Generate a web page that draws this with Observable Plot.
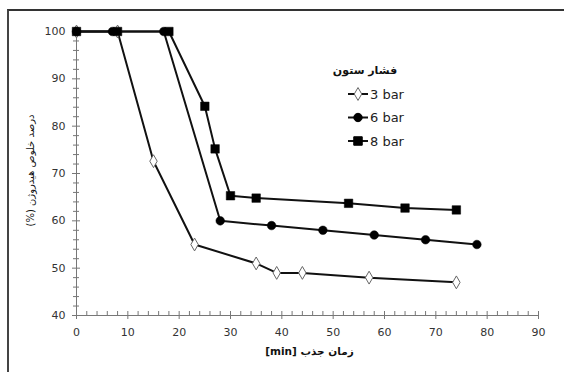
<!DOCTYPE html>
<html>
<head>
<meta charset="utf-8">
<script src="https://cdn.jsdelivr.net/npm/d3@7"></script>
<script src="https://cdn.jsdelivr.net/npm/@observablehq/plot@0.6"></script>
<style>
  html, body { margin: 0; padding: 0; background: #fff; }
  #wrap { position: relative; width: 564px; height: 372px; overflow: hidden; }
  #frame { position: absolute; left: 7px; top: 9px; width: 560px; height: 370px;
           border-top: 2px solid #333; border-left: 2px solid #444; pointer-events: none; }
  #legend { position: absolute; left: 330px; top: 58px; }
</style>
</head>
<body>
<div id="wrap"><div id="frame"></div></div>
<script>
// Data
const seriesNames = ["3 bar", "6 bar", "8 bar"];
const minutes3 = [0, 8, 15, 23, 35, 39, 44, 57, 74];
const purity3  = [100, 100, 72.6, 55, 51, 49, 49, 48, 47];
const minutes6 = [0, 7, 17, 28, 38, 48, 58, 68, 78];
const purity6  = [100, 100, 100, 60, 59, 58, 57, 56, 55];
const minutes8 = [0, 8, 18, 25, 27, 30, 35, 53, 64, 74];
const purity8  = [100, 100, 100, 84.2, 75.2, 65.3, 64.8, 63.7, 62.7, 62.3];

const xTicks = [0, 10, 20, 30, 40, 50, 60, 70, 80, 90];
const yTicks = [40, 50, 60, 70, 80, 90, 100];
const xMinor = d3.range(0, 91, 2).filter(v => v % 10 !== 0);
const yMinor = d3.range(40, 101, 2).filter(v => v % 10 !== 0);

const xLabel = "[min] زمان جذب";
const yLabel = "(%) درصد خلوص هیدروژن";
const legendTitle = "فشار ستون";

const mk = (xs, ys, s) => xs.map((x, i) => ({minute: x, purity: ys[i], series: s}));
const d3bar = mk(minutes3, purity3, seriesNames[0]);
const d6bar = mk(minutes6, purity6, seriesNames[1]);
const d8bar = mk(minutes8, purity8, seriesNames[2]);

const W = 564, H = 372, ML = 76, MR = 26, MT = 31, MB = 57;
const PW = W - ML - MR, PH = H - MT - MB;
const axisColor = "#777";
const lineW = 2;

const chart = Plot.plot({
  width: W, height: H,
  marginLeft: ML, marginRight: MR, marginTop: MT, marginBottom: MB,
  x: {domain: [0, 90]},
  y: {domain: [40, 100]},
  style: {fontFamily: "DejaVu Sans", fontSize: "11px", color: "#333", background: "transparent"},
  marks: [
    // minor and inward ticks
    Plot.ruleX(xMinor, {stroke: axisColor, insetTop: PH - 4}),
    Plot.ruleX(xTicks, {stroke: axisColor, insetTop: PH - 4}),
    Plot.ruleY(yMinor, {stroke: axisColor, insetRight: PW - 3, insetLeft: -3}),
    Plot.ruleY(yTicks, {stroke: axisColor, insetRight: PW - 4}),
    Plot.axisX({ticks: xTicks, tickSize: 4, tickPadding: 9, stroke: axisColor, label: null}),
    Plot.axisY({ticks: yTicks, tickSize: 4, tickPadding: 7, stroke: axisColor, label: null}),
    Plot.ruleY([40], {stroke: axisColor}),
    Plot.ruleX([0], {stroke: axisColor}),
    // series lines
    Plot.line(d3bar, {x: "minute", y: "purity", stroke: "#111", strokeWidth: lineW}),
    Plot.line(d6bar, {x: "minute", y: "purity", stroke: "#111", strokeWidth: lineW}),
    Plot.line(d8bar, {x: "minute", y: "purity", stroke: "#111", strokeWidth: lineW}),
    // markers
    Plot.dot(d3bar, {x: "minute", y: "purity", symbol: "diamond", r: 3.9, fill: "white", stroke: "#666", strokeWidth: 1}),
    Plot.dot(d6bar, {x: "minute", y: "purity", symbol: "circle", r: 4.3, fill: "#000", stroke: "#000", strokeWidth: 0.5}),
    Plot.dot(d8bar, {x: "minute", y: "purity", symbol: "square", r: 4.8, fill: "#000", stroke: "#000", strokeWidth: 0.5}),
    // axis titles
    Plot.text([xLabel], {frameAnchor: "bottom", dy: 39, dx: 2, fontWeight: "bold", fontSize: 10.5, fill: "#111"}),
    Plot.text([yLabel], {frameAnchor: "left", textAnchor: "middle", dx: -46, dy: -3, rotate: -90, fontWeight: "normal", fontSize: 10, fill: "#111"})
  ]
});
const wrap = document.getElementById("wrap");
chart.style.position = "absolute";
chart.style.left = "0px";
chart.style.top = "0px";
wrap.insertBefore(chart, wrap.firstChild);

// Legend
const leg = d3.create("svg").attr("id", "legend").attr("width", 110).attr("height", 100)
  .style("font-family", "DejaVu Sans");
leg.append("text").attr("x", 35).attr("y", 16).attr("text-anchor", "middle")
  .attr("font-size", 11).attr("font-weight", "bold").attr("fill", "#111").text(legendTitle);
const symbols = [d3.symbolDiamond, d3.symbolCircle, d3.symbolSquare];
const fills = ["white", "#000", "#000"];
const strokes = ["#666", "#000", "#000"];
const sizes = [48, 55, 72];
seriesNames.forEach((name, i) => {
  const yy = 36 + i * 23.5;
  const g = leg.append("g").attr("transform", `translate(0,${yy})`);
  g.append("line").attr("x1", 18).attr("x2", 38).attr("stroke", "#111").attr("stroke-width", lineW);
  g.append("path").attr("transform", "translate(28,0)").attr("d", d3.symbol(symbols[i], sizes[i])())
    .attr("fill", fills[i]).attr("stroke", strokes[i]).attr("stroke-width", 1);
  g.append("text").attr("x", 40).attr("y", 0).attr("dy", "0.36em").attr("font-size", 13)
    .attr("fill", "#222").text(name);
});
wrap.appendChild(leg.node());
</script>
</body>
</html>
